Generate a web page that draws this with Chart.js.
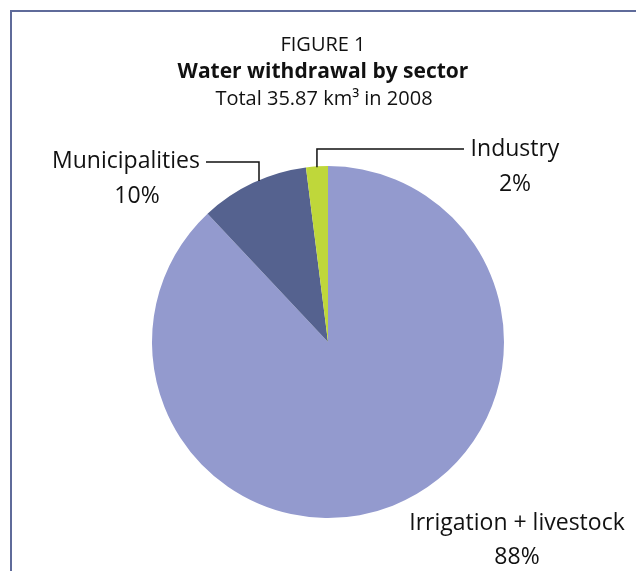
<!DOCTYPE html>
<html>
<head>
<meta charset="utf-8">
<script src="https://cdn.jsdelivr.net/npm/chart.js@4"></script>
<style>
    html, body { margin: 0; padding: 0; background: #fff; }
    #wrap { position: relative; width: 636px; height: 571px; }
    #frame {
        position: absolute; left: 10px; top: 10px; width: 640px; height: 600px;
        border-left: 2px solid #5f6b9a; border-top: 2px solid #5f6b9a;
    }
    canvas { position: absolute; left: 0; top: 0; }
</style>
</head>
<body>
<div id="wrap">
    <div id="frame"></div>
    <canvas id="pieChart" width="636" height="571"></canvas>
</div>
<script>
const sectors = ['Irrigation + livestock', 'Municipalities', 'Industry'];
const shares = [88, 10, 2];
const sectorColors = ['#939ace', '#55628f', '#bfd73a'];
const titleLines = ['FIGURE 1', 'Water withdrawal by sector', 'Total 35.87 km³ in 2008'];

const fontFamily = '"Open Sans", "Noto Sans", sans-serif';

// titles and slice labels with leader lines
const annotations = {
    id: 'annotations',
    afterDraw(chart) {
        const ctx = chart.ctx;
        ctx.save();
        ctx.fillStyle = '#111';
        ctx.textAlign = 'center';
        ctx.textBaseline = 'middle';

        ctx.font = '20px ' + fontFamily;
        ctx.fillText(titleLines[0], 323, 45);
        ctx.font = 'bold 21px ' + fontFamily;
        ctx.fillText(titleLines[1], 323, 72);
        ctx.font = '20px ' + fontFamily;
        ctx.fillText(titleLines[2], 324, 99);

        const meta = chart.getDatasetMeta(0);
        const arcs = meta.data;

        ctx.font = '23px ' + fontFamily;
        ctx.fillText(sectors[0], 517, 523);
        ctx.fillText(shares[0] + '%', 517, 557);

        ctx.fillText(sectors[1], 126, 161);
        ctx.fillText(shares[1] + '%', 137, 196);

        ctx.fillText(sectors[2], 515, 149);
        ctx.fillText(shares[2] + '%', 515, 184);

        ctx.strokeStyle = '#111';
        ctx.lineWidth = 1.5;
        // Municipalities leader
        ctx.beginPath();
        ctx.moveTo(206, 162);
        ctx.lineTo(259, 162);
        ctx.lineTo(259, 181);
        ctx.stroke();
        // Industry leader
        const ind = arcs[2];
        const mid = (ind.startAngle + ind.endAngle) / 2;
        const ix = ind.x + Math.cos(mid) * ind.outerRadius;
        const iy = ind.y + Math.sin(mid) * ind.outerRadius;
        ctx.beginPath();
        ctx.moveTo(ix, iy + 1);
        ctx.lineTo(ix, 149);
        ctx.lineTo(464, 149);
        ctx.stroke();
        ctx.restore();
    }
};

const pieChart = new Chart(document.getElementById('pieChart').getContext('2d'), {
    type: 'pie',
    data: {
        labels: sectors,
        datasets: [{
            data: shares,
            backgroundColor: sectorColors,
            borderWidth: 0
        }]
    },
    options: {
        responsive: false,
        animation: false,
        layout: {
            padding: { left: 152, right: 132, top: 165, bottom: 52 }
        },
        plugins: {
            legend: { display: false },
            title: { display: false },
            tooltip: { enabled: false }
        }
    },
    plugins: [annotations]
});
</script>
</body>
</html>
